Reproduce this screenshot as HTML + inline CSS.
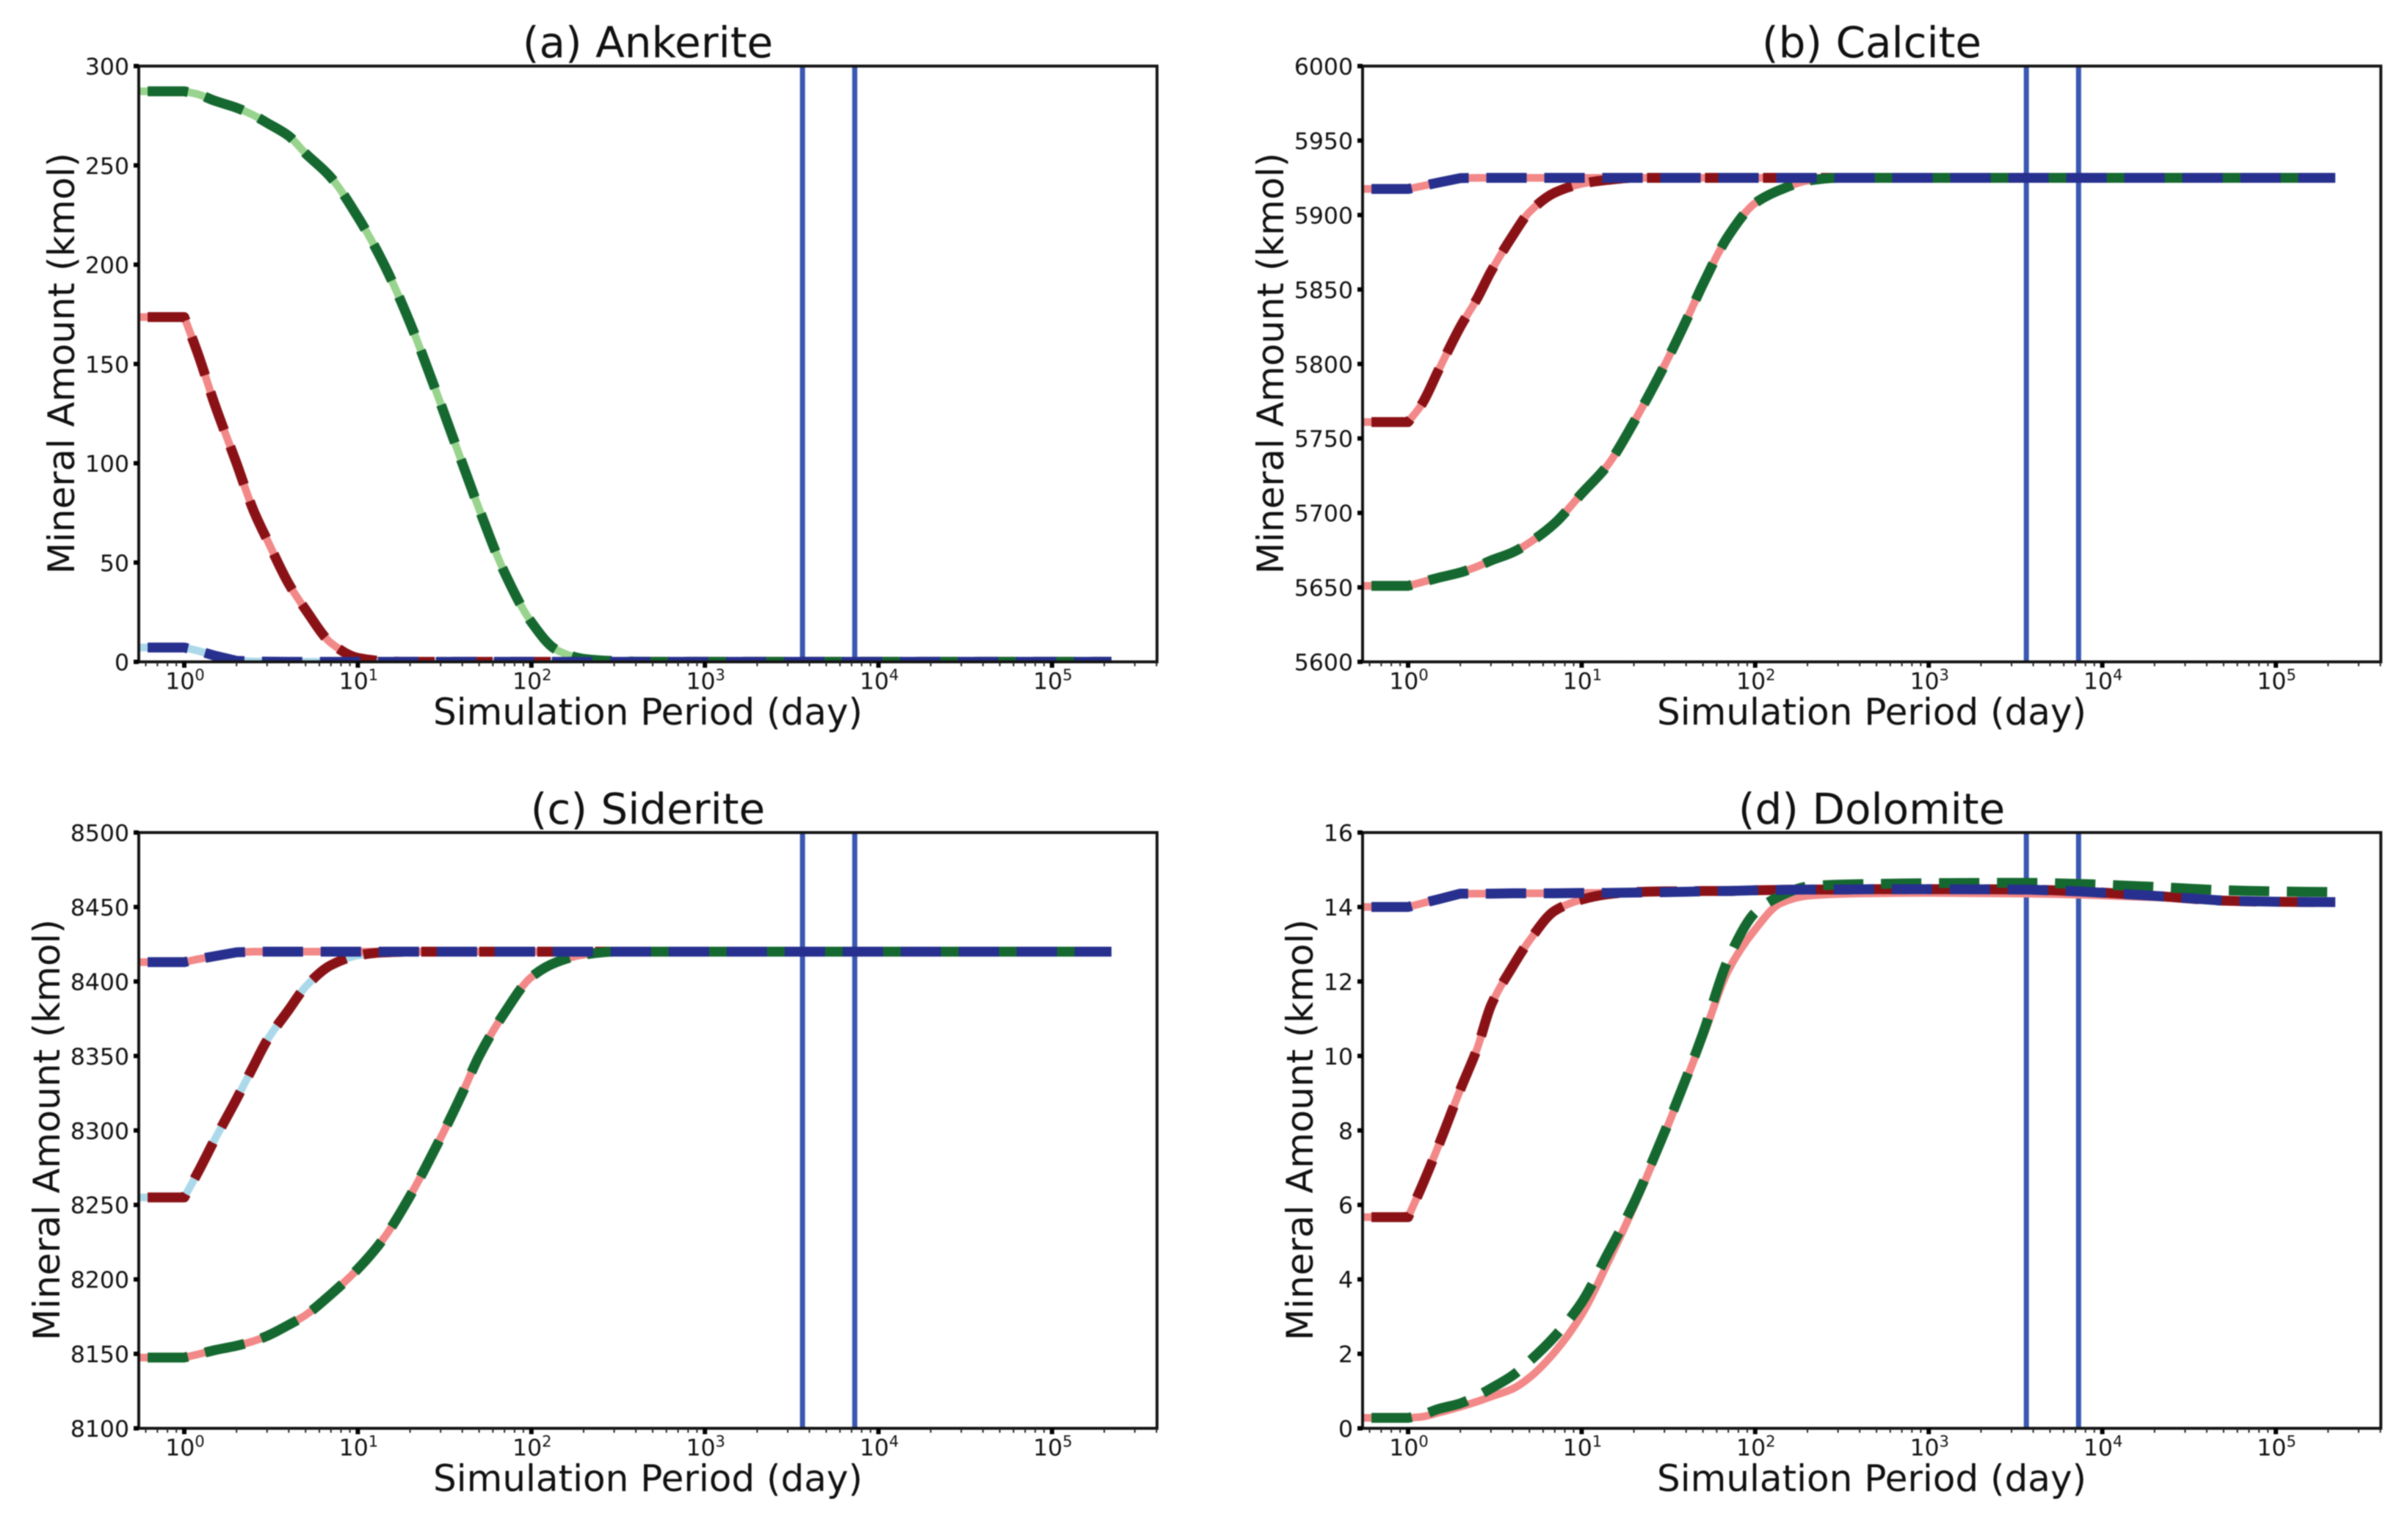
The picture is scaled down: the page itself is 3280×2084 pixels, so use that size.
<!DOCTYPE html>
<html lang="en">
<head>
<meta charset="utf-8">
<title>Mineral amount over simulation period</title>
<style>
html,body{margin:0;padding:0;background:#fff;}
svg{display:block;filter:blur(0.8px);}
text{font-family:"DejaVu Sans","Liberation Sans",sans-serif;fill:#111;}
.title{font-size:58px;text-anchor:middle;}
.xlabel,.ylabel{font-size:50px;text-anchor:middle;}
.tick{font-size:31.5px;}
</style>
</head>
<body>
<svg id="figure" xmlns="http://www.w3.org/2000/svg" width="3280" height="2084" viewBox="0 0 3280 2084">
  <rect x="0" y="0" width="3280" height="2084" fill="#ffffff"/>
  <g id="panel-a">
    <text class="title" x="882.5" y="78">(a) Ankerite</text>
    <text class="xlabel" x="882.5" y="987">Simulation Period (day)</text>
    <text class="ylabel" transform="translate(101,495) rotate(-90)">Mineral Amount (kmol)</text>
  </g>
  <g id="panel-b">
    <text class="title" x="2549.5" y="78">(b) Calcite</text>
    <text class="xlabel" x="2549.5" y="987">Simulation Period (day)</text>
    <text class="ylabel" transform="translate(1748,495) rotate(-90)">Mineral Amount (kmol)</text>
  </g>
  <g id="panel-c">
    <text class="title" x="882.5" y="1122">(c) Siderite</text>
    <text class="xlabel" x="882.5" y="2031">Simulation Period (day)</text>
    <text class="ylabel" transform="translate(81,1539) rotate(-90)">Mineral Amount (kmol)</text>
  </g>
  <g id="panel-d">
    <text class="title" x="2549.5" y="1122">(d) Dolomite</text>
    <text class="xlabel" x="2549.5" y="2031">Simulation Period (day)</text>
    <text class="ylabel" transform="translate(1788,1539) rotate(-90)">Mineral Amount (kmol)</text>
  </g>
</svg>
<script>
// ---- data ----
const days = [0.285,1,1.2,1.5,2,2.5,3,4,5,7,10,14,20,30,40,50,70,100,140,200,300,500,1000,3650,7300,20000,50000,100000,220000];
const markerDays = [3650,7300];
const xTickExponents = [0,1,2,3,4,5];

const ankeriteHigh = [287.3,287.3,285.8,282.5,279,275.3,271.4,264.8,256,243.9,224,201,170.6,130,100,77,45,20,6,1.5,0.4,0,0,0,0,0,0,0,0];
const ankeriteMid  = [173.6,173.6,155,129.5,100,76.4,61.5,39.3,26.3,9.5,2,0.4,0,0,0,0,0,0,0,0,0,0,0,0,0,0,0,0,0];
const ankeriteLow  = [7.2,7.2,5.6,3.1,0.5,0.2,0.1,0,0,0,0,0,0,0,0,0,0,0,0,0,0,0,0,0,0,0,0,0,0];
const ankeriteTicks = [0,50,100,150,200,250,300];

const calciteLow  = [5651,5651,5653.5,5656.5,5660,5664,5668,5673.5,5680,5693,5713,5731.5,5761,5799,5829,5853.5,5886,5908,5917,5923,5925,5925,5925,5925,5925,5925,5925,5925,5925];
const calciteMid  = [5761,5761,5773,5796,5825,5844,5862,5886,5902,5915,5921,5923.5,5925,5925,5925,5925,5925,5925,5925,5925,5925,5925,5925,5925,5925,5925,5925,5925,5925];
const calciteHigh = [5917.5,5917.5,5919.4,5921.8,5924.8,5925,5925,5925,5925,5925,5925,5925,5925,5925,5925,5925,5925,5925,5925,5925,5925,5925,5925,5925,5925,5925,5925,5925,5925];
const calciteTicks = [5600,5650,5700,5750,5800,5850,5900,5950,6000];

const sideriteLow  = [8147.5,8147.5,8149.7,8152.5,8155.4,8158.5,8162,8169.5,8176,8190,8207,8227,8256,8295,8325,8350,8379,8403,8413,8418,8420,8420,8420,8420,8420,8420,8420,8420,8420];
const sideriteMid  = [8255,8255,8272,8294,8321,8343,8360.5,8381,8396.5,8411,8417.5,8419.5,8420,8420,8420,8420,8420,8420,8420,8420,8420,8420,8420,8420,8420,8420,8420,8420,8420];
const sideriteHigh = [8413,8413,8415,8417,8419.6,8420,8420,8420,8420,8420,8420,8420,8420,8420,8420,8420,8420,8420,8420,8420,8420,8420,8420,8420,8420,8420,8420,8420,8420];
const sideriteTicks = [8100,8150,8200,8250,8300,8350,8400,8450,8500];

const dolomiteLowDashed = [0.28,0.28,0.36,0.52,0.67,0.87,1.07,1.42,1.8,2.47,3.38,4.65,6.05,7.95,9.4,10.6,12.6,13.85,14.3,14.55,14.6,14.62,14.64,14.65,14.62,14.54,14.45,14.42,14.4];
const dolomiteLowSolid  = [0.28,0.28,0.31,0.42,0.58,0.72,0.85,1.06,1.36,2.05,3.05,4.4,5.95,7.9,9.35,10.5,12.3,13.4,14.1,14.3,14.35,14.37,14.38,14.36,14.33,14.26,14.17,14.14,14.13];
const dolomiteMid  = [5.67,5.67,6.5,7.6,9.1,10.2,11.35,12.4,13.1,13.9,14.2,14.34,14.4,14.42,14.42,14.43,14.43,14.45,14.46,14.47,14.47,14.48,14.48,14.47,14.42,14.3,14.17,14.14,14.13];
const dolomiteHigh = [14,14,14.1,14.21,14.36,14.36,14.36,14.37,14.37,14.37,14.38,14.38,14.39,14.4,14.41,14.42,14.43,14.45,14.46,14.47,14.47,14.48,14.48,14.47,14.42,14.3,14.17,14.14,14.13];
const dolomiteTicks = [0,2,4,6,8,10,12,14,16];

// ---- styles ----
const GREEN_LIGHT = '#98d48e', CORAL = '#f28888', SKY = '#acd9ea';
const GREEN_DARK = '#15682f', RED_DARK = '#8a1216', BLUE_DARK = '#27308e', MARKER = '#3a58b2';

// ---- layout + series wiring (last flag: curve is smoothed; top lines keep their kink) ----
const panels = [
  {id:'panel-a', key:'ankerite', left:189,  top:90,   ticks:ankeriteTicks,
   solid:[[ankeriteHigh,GREEN_LIGHT,true],[ankeriteMid,CORAL,true],[ankeriteLow,SKY,false]],
   dashed:[[ankeriteMid,RED_DARK,true],[ankeriteHigh,GREEN_DARK,true],[ankeriteLow,BLUE_DARK,false]]},
  {id:'panel-b', key:'calcite',  left:1856, top:90,   ticks:calciteTicks,
   solid:[[calciteLow,CORAL,true],[calciteMid,CORAL,true],[calciteHigh,CORAL,false]],
   dashed:[[calciteMid,RED_DARK,true],[calciteLow,GREEN_DARK,true],[calciteHigh,BLUE_DARK,false]]},
  {id:'panel-c', key:'siderite', left:189,  top:1134, ticks:sideriteTicks,
   solid:[[sideriteLow,CORAL,true],[sideriteMid,SKY,true],[sideriteHigh,CORAL,false]],
   dashed:[[sideriteMid,RED_DARK,true],[sideriteLow,GREEN_DARK,true],[sideriteHigh,BLUE_DARK,false]]},
  {id:'panel-d', key:'dolomite', left:1856, top:1134, ticks:dolomiteTicks,
   solid:[[dolomiteLowSolid,CORAL,true],[dolomiteMid,CORAL,true],[dolomiteHigh,CORAL,false]],
   dashed:[[dolomiteMid,RED_DARK,true],[dolomiteLowDashed,GREEN_DARK,true],[dolomiteHigh,BLUE_DARK,false]]}
];

const AXIS_W = 1387, AXIS_H = 811.5;
const LOG_MIN = -0.2623, LOG_MAX = 5.605;
const NS = 'http://www.w3.org/2000/svg';

function el(tag, parent, attrs){
  const e = document.createElementNS(NS, tag);
  for (const k in attrs) e.setAttribute(k, attrs[k]);
  parent.appendChild(e);
  return e;
}

// Straight first segment (the flat start), then a monotone cubic through the remaining points.
function curvePath(xs, ys, smooth){
  let d = 'M' + xs[0].toFixed(1) + ' ' + ys[0].toFixed(1) + 'L' + xs[1].toFixed(1) + ' ' + ys[1].toFixed(1);
  const n = xs.length;
  if (!smooth){
    for (let i = 2; i < n; i++) d += 'L' + xs[i].toFixed(1) + ' ' + ys[i].toFixed(1);
    return d;
  }
  const m = [];
  for (let i = 1; i < n - 1; i++) m[i] = (ys[i + 1] - ys[i]) / (xs[i + 1] - xs[i]);
  const t = [];
  t[1] = m[1];
  t[n - 1] = m[n - 2];
  for (let i = 2; i < n - 1; i++){
    t[i] = m[i - 1] * m[i] <= 0 ? 0 : 2 * m[i - 1] * m[i] / (m[i - 1] + m[i]);
  }
  for (let i = 1; i < n - 1; i++){
    const h = (xs[i + 1] - xs[i]) / 3;
    d += 'C' + (xs[i] + h).toFixed(1) + ' ' + (ys[i] + t[i] * h).toFixed(1) + ' ' +
         (xs[i + 1] - h).toFixed(1) + ' ' + (ys[i + 1] - t[i + 1] * h).toFixed(1) + ' ' +
         xs[i + 1].toFixed(1) + ' ' + ys[i + 1].toFixed(1);
  }
  return d;
}

const svg = document.getElementById('figure');
const defs = el('defs', svg, {});

panels.forEach(function(p){
  const g = document.getElementById(p.id);
  const x = function(t){ return p.left + (Math.log10(t) - LOG_MIN) / (LOG_MAX - LOG_MIN) * AXIS_W; };
  const yMin = p.ticks[0], yMax = p.ticks[p.ticks.length - 1];
  const y = function(v){ return p.top + AXIS_H - (v - yMin) / (yMax - yMin) * AXIS_H; };
  const bottom = p.top + AXIS_H;

  const clip = el('clipPath', defs, {id:'clip-' + p.key});
  el('rect', clip, {x:p.left, y:p.top, width:AXIS_W, height:AXIS_H});
  const plot = el('g', g, {'clip-path':'url(#clip-' + p.key + ')'});
  
  

  markerDays.forEach(function(d){
    const m = el('line', plot, {x1:x(d), x2:x(d), y1:p.top, y2:bottom, stroke:MARKER, 'stroke-width':7});
    
    
  });

  const toPath = function(values, smooth){
    return curvePath(days.map(x), values.map(y), smooth);
  };
  p.solid.forEach(function(s){
    const line = el('path', plot, {d:toPath(s[0], s[2]), fill:'none', stroke:s[1], 'stroke-width':10.5, 'stroke-linejoin':'round'});
    
    
  });
  p.dashed.forEach(function(s){
    const line = el('path', plot, {d:toPath(s[0], s[2]), fill:'none', stroke:s[1], 'stroke-width':13.5, 'stroke-dasharray':'55 24', 'stroke-linejoin':'round'});
    
    
  });

  const frame = el('rect', g, {x:p.left, y:p.top, width:AXIS_W, height:AXIS_H, fill:'none', stroke:'#151515', 'stroke-width':4});
  
  

  p.ticks.forEach(function(v){
    const tick = el('line', g, {x1:p.left - 7, x2:p.left, y1:y(v), y2:y(v), stroke:'#000', 'stroke-width':6});
    
    
    const label = el('text', g, {x:p.left - 13, y:y(v) + 11.5, 'class':'tick', 'text-anchor':'end'});
    label.textContent = String(v);
    
    
  });

  for (let e = -1; e <= 5; e++){
    for (let m = 2; m <= 9; m++){
      const t = m * Math.pow(10, e);
      if (x(t) < p.left || x(t) > p.left + AXIS_W) continue;
      const minor = el('line', g, {x1:x(t), x2:x(t), y1:bottom, y2:bottom + 6, stroke:'#222', 'stroke-width':2});
      
      
    }
  }
  xTickExponents.forEach(function(e){
    const t = Math.pow(10, e);
    const tick = el('line', g, {x1:x(t), x2:x(t), y1:bottom, y2:bottom + 8, stroke:'#000', 'stroke-width':6});
    
    
    const label = el('text', g, {x:x(t) + 1, y:bottom + 37, 'class':'tick', 'text-anchor':'middle'});
    
    
    label.appendChild(document.createTextNode('10'));
    const sup = el('tspan', label, {dy:-12, 'font-size':21});
    sup.textContent = String(e);
  });
});
</script>
</body>
</html>
